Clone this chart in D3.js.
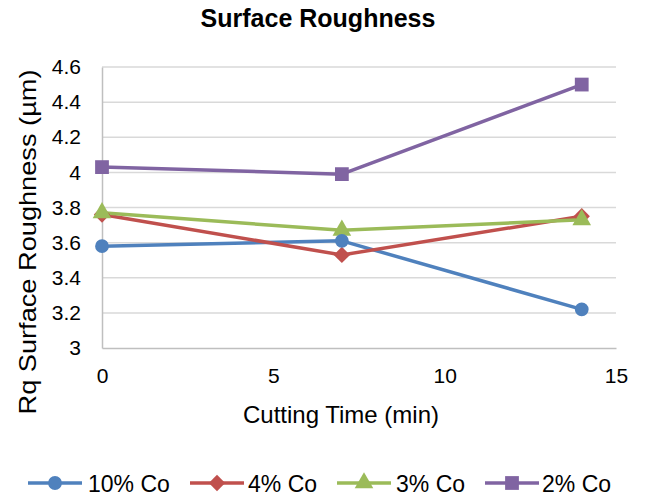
<!DOCTYPE html>
<html>
<head>
<meta charset="utf-8">
<script src="https://cdn.jsdelivr.net/npm/d3@7"></script>
<style>
  html, body { margin: 0; padding: 0; background: #fff; }
  svg { display: block; font-family: "Liberation Sans", Arial, sans-serif; }
</style>
</head>
<body>
<svg id="chart" width="647" height="497"></svg>
<script>
// Cutting time (min) at each measurement
const times = [0, 7, 14];

// Rq surface roughness (µm) per cobalt content
const seriesNames = ["10% Co", "4% Co", "3% Co", "2% Co"];
const co10 = [3.58, 3.61, 3.22];
const co4  = [3.76, 3.53, 3.75];
const co3  = [3.77, 3.67, 3.73];
const co2  = [4.03, 3.99, 4.50];

const xTicks = [0, 5, 10, 15];
const yTicks = [3, 3.2, 3.4, 3.6, 3.8, 4, 4.2, 4.4, 4.6];

const colors = ["#4F81BD", "#C0504D", "#9BBB59", "#8064A2"];
const symbols = [d3.symbolCircle, d3.symbolDiamond2, d3.symbolTriangle, d3.symbolSquare];
const symbolSizes = [150, 170, 150, 190];

const series = [co10, co4, co3, co2].map((vals, i) => ({
  name: seriesNames[i],
  color: colors[i],
  symbol: symbols[i],
  size: symbolSizes[i],
  points: vals.map((v, j) => ({ t: times[j], v }))
}));

const svg = d3.select("#chart");
const plot = { left: 102, right: 616, top: 67, bottom: 348 };

const x = d3.scaleLinear().domain([0, 15]).range([plot.left, plot.right]);
const y = d3.scaleLinear().domain([3, 4.6]).range([plot.bottom, plot.top]);

// Title
svg.append("text")
  .attr("x", 318).attr("y", 27)
  .attr("text-anchor", "middle")
  .attr("font-size", 25).attr("font-weight", "bold")
  .text("Surface Roughness");

// Horizontal gridlines
svg.append("g")
  .selectAll("line")
  .data(yTicks.slice(1))
  .join("line")
  .attr("x1", plot.left).attr("x2", plot.right)
  .attr("y1", d => y(d)).attr("y2", d => y(d))
  .attr("stroke", "#D9D9D9").attr("stroke-width", 1.5);

// Y axis
const yAxis = svg.append("g")
  .attr("transform", `translate(${plot.left},0)`)
  .call(d3.axisLeft(y).tickValues(yTicks).tickSize(0).tickPadding(21).tickFormat(d3.format("")));
yAxis.select(".domain").attr("stroke", "#BFBFBF").attr("stroke-width", 1.5);
yAxis.selectAll("text").attr("font-size", 21).attr("fill", "#000")
  .attr("font-family", "Liberation Sans, Arial, sans-serif");

// X axis
const xAxis = svg.append("g")
  .attr("transform", `translate(0,${plot.bottom})`)
  .call(d3.axisBottom(x).tickValues(xTicks).tickSize(0).tickPadding(20));
xAxis.select(".domain").attr("stroke", "#BFBFBF").attr("stroke-width", 1.5);
xAxis.selectAll("text").attr("font-size", 21).attr("fill", "#000")
  .attr("font-family", "Liberation Sans, Arial, sans-serif");

// Axis titles
svg.append("text")
  .attr("x", 341).attr("y", 423)
  .attr("text-anchor", "middle")
  .attr("font-size", 24)
  .text("Cutting Time (min)");

svg.append("text")
  .attr("transform", "translate(36,242) rotate(-90)")
  .attr("text-anchor", "middle")
  .attr("font-size", 24)
  .attr("textLength", 345)
  .attr("lengthAdjust", "spacingAndGlyphs")
  .text("Rq Surface Roughness (µm)");

// Lines
const line = d3.line().x(d => x(d.t)).y(d => y(d.v));
svg.append("g")
  .selectAll("path")
  .data(series)
  .join("path")
  .attr("d", d => line(d.points))
  .attr("fill", "none")
  .attr("stroke", d => d.color)
  .attr("stroke-width", 3.5)
  .attr("stroke-linejoin", "round");

// Markers
const markerOrder = [1, 2, 0, 3];
markerOrder.forEach(i => {
  const s = series[i];
  svg.append("g")
    .selectAll("path")
    .data(s.points)
    .join("path")
    .attr("transform", d => `translate(${x(d.t)},${y(d.v)})`)
    .attr("d", d3.symbol().type(s.symbol).size(s.size)())
    .attr("fill", s.color);
});

// Legend
const legendItems = [
  { lx: 28, tx: 88 },
  { lx: 190, tx: 248 },
  { lx: 337, tx: 396 },
  { lx: 485, tx: 542 }
];
const legendY = 483;
const lg = svg.append("g");
series.forEach((s, i) => {
  const it = legendItems[i];
  lg.append("line")
    .attr("x1", it.lx).attr("x2", it.lx + 54)
    .attr("y1", legendY).attr("y2", legendY)
    .attr("stroke", s.color).attr("stroke-width", 3.5);
  lg.append("path")
    .attr("transform", `translate(${it.lx + 27},${legendY})`)
    .attr("d", d3.symbol().type(s.symbol).size(s.size)())
    .attr("fill", s.color);
  lg.append("text")
    .attr("x", it.tx).attr("y", legendY + 8.5)
    .attr("font-size", 23)
    .text(s.name);
});
</script>
</body>
</html>
